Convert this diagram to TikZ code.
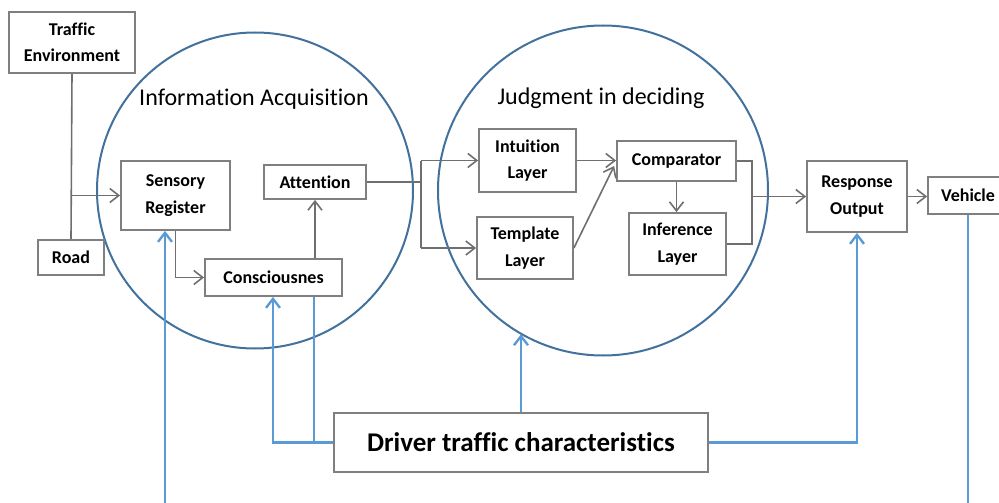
\documentclass[tikz,border=0pt]{standalone}
\usepackage{fontspec}
\setmainfont[Ligatures={NoCommon}]{Carlito}
\usetikzlibrary{arrows.meta,calc}
\definecolor{boxgray}{HTML}{7F7F7F}
\definecolor{linegray}{HTML}{6F6F6F}
\definecolor{circblue}{HTML}{41719C}
\definecolor{lblue}{HTML}{5B9BD5}
\begin{document}
\begin{tikzpicture}[x=1pt,y=-1pt,
  box/.style={draw=boxgray, line width=1.8pt, fill=white, inner sep=0pt, align=center,
    font=\fontsize{18}{26.5}\selectfont\bfseries},
  gline/.style={draw=linegray, line width=1.6pt},
  garrow/.style={gline, -{Straight Barb[length=9pt,width=14pt]}},
  bline/.style={draw=lblue, line width=2.4pt},
  barrow/.style={bline, -{Straight Barb[length=9pt,width=14pt]}},
  bigcirc/.style={circle, draw=circblue, line width=2pt, inner sep=0pt},
  title/.style={font=\fontsize{24}{28}\selectfont, inner sep=0pt}]
\useasboundingbox (0,0) rectangle (999,503);
\clip (0,0) rectangle (999,503);
% big circles
\node[bigcirc, minimum size=316pt] (ic) at (255,190.5) {};
\node[bigcirc, minimum size=330pt] (jc) at (603,190.5) {};
\node[title] (t1) at (254,99) {Information Acquisition};
\node[title] (t2) at (601,98) {Judgment in deciding};
% boxes
\node[box, minimum width=126pt, minimum height=61pt] (env) at (72,42.5) {Traffic\\Environment};
\node[box, minimum width=66pt, minimum height=35pt] (road) at (71,257.5) {Road};
\node[box, minimum width=109pt, minimum height=69pt] (sens) at (175.5,195.5) {Sensory\\Register};
\node[box, minimum width=102pt, minimum height=34pt] (att) at (315,182) {Attention};
\node[box, minimum width=137pt, minimum height=37pt] (cons) at (273.5,277.5) {Consciousnes};
\node[box, minimum width=97pt, minimum height=63pt] (intu) at (527.5,160.5) {Intuition\\Layer};
\node[box, minimum width=96pt, minimum height=62pt] (temp) at (525,248) {Template\\Layer};
\node[box, minimum width=119pt, minimum height=40pt] (comp) at (676.5,161) {Comparator};
\node[box, minimum width=97pt, minimum height=62pt] (infer) at (677.5,244) {Inference\\Layer};
\node[box, minimum width=100pt, minimum height=71pt] (resp) at (857,196.5) {Response\\Output};
\node[box, minimum width=80pt, minimum height=37pt] (veh) at (968,195.5) {Vehicle};
\node[box, font=\fontsize{27}{32}\selectfont\bfseries, minimum width=374pt, minimum height=59pt] (drv) at (521,442.5) {Driver traffic characteristics};
% gray connectors
\coordinate (j1) at (72,195.5);
\draw[gline] (env.south) -- (road.north);
\draw[garrow] (j1) -- (sens.west);
\draw[garrow] (sens.south) |- (cons.west);
\draw[garrow] (att.south |- cons.north) -- (att.south);
\coordinate (split) at (421,182);
\draw[gline] (att.east) -- (split);
\draw[gline] (split |- intu.west) -- (split |- temp.west);
\draw[garrow] (split |- intu.west) -- (intu.west);
\draw[garrow] (split |- temp.west) -- (temp.west);
\draw[garrow] (intu.east) -- (intu.east -| comp.west);
\draw[garrow] (temp.east) -- ($(comp.west)+(-2,5)$);
\draw[garrow] (comp.south) -- (comp.south |- infer.north);
\coordinate (merge) at (752,196.5);
\draw[gline] (comp.east) -| (merge |- infer.east) -- (infer.east);
\draw[garrow] (merge) -- (resp.west);
\draw[garrow] (resp.east) -- (resp.east -| veh.west);
% blue connectors
\coordinate (bl1) at (165,510);
\draw[barrow] (bl1) -- (bl1 |- sens.south);
\draw[bline] (veh.south) -- (veh.south |- bl1);
\coordinate (dl) at (273,442.5);
\coordinate (dm) at (314,442.5);
\draw[barrow] (drv.west) -- (dl) -- (dl |- cons.south);
\draw[bline] (dm) -- (dm |- cons.south);
\draw[barrow] (drv.north) -- (drv.north |- jc.240.2);
\draw[barrow] (drv.east) -| (resp.south);
\end{tikzpicture}
\end{document}
